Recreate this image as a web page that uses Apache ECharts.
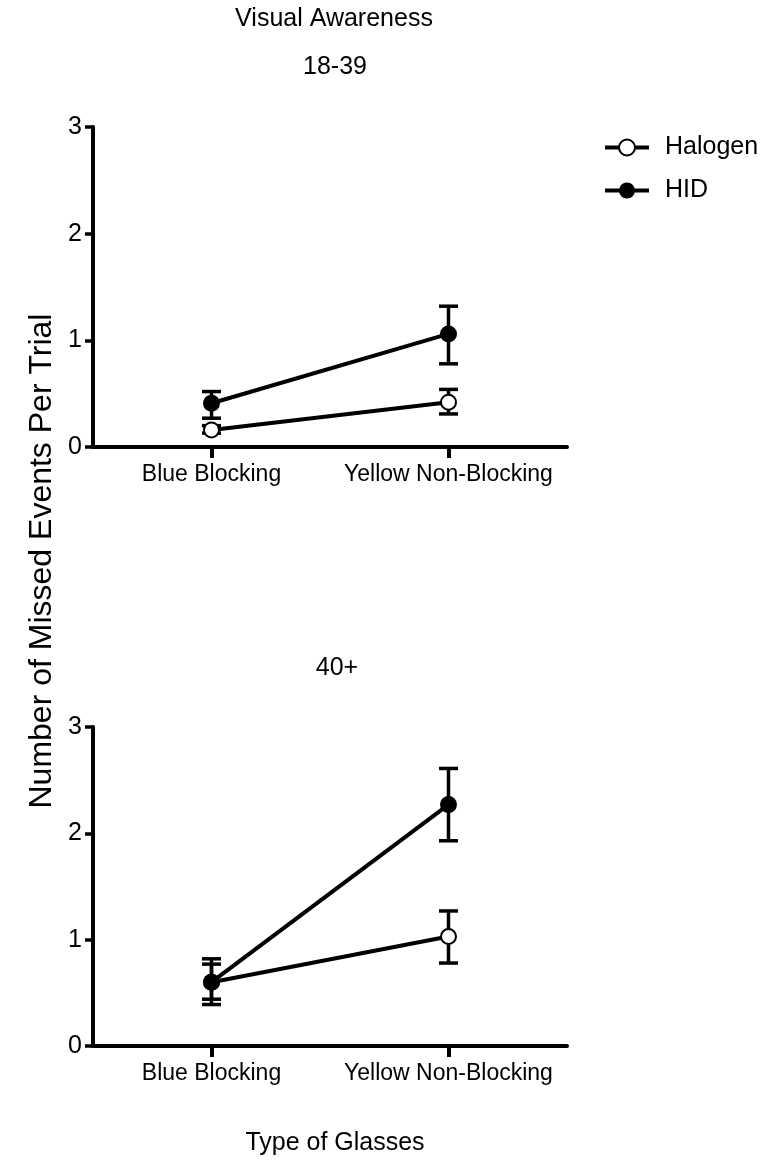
<!DOCTYPE html>
<html>
<head>
<meta charset="utf-8">
<script src="https://cdn.jsdelivr.net/npm/echarts@6/dist/echarts.min.js"></script>
<style>
  html, body { margin: 0; padding: 0; background: #fff; }
  #chart { width: 765px; height: 1161px; }
</style>
</head>
<body>
<div id="chart"></div>
<script>
// glasses type on x
const categories = ['Blue Blocking', 'Yellow Non-Blocking']
const seriesNames = ['Halogen', 'HID']

// 18-39 group
const youngHalogen = [0.16, 0.42]
const youngHalogenErr = [[0.13, 0.20], [0.31, 0.54]]
const youngHid = [0.41, 1.06]
const youngHidErr = [[0.27, 0.52], [0.78, 1.32]]

// 40+ group
const oldHalogen = [0.60, 1.03]
const oldHalogenErr = [[0.44, 0.77], [0.78, 1.27]]
const oldHid = [0.60, 2.27]
const oldHidErr = [[0.39, 0.82], [1.93, 2.61]]

const FONT = "'Liberation Sans', Arial, sans-serif"
const INK = '#000'

const chart = echarts.init(document.getElementById('chart'))

function errData(err) {
  return err.map((e, i) => [i, e[0], e[1]])
}

function errorSeries(err, gridIdx) {
  return {
    type: 'custom',
    xAxisIndex: gridIdx,
    yAxisIndex: gridIdx,
    z: 1,
    silent: true,
    encode: { x: 0, y: [1, 2] },
    data: errData(err),
    renderItem: (params, api) => {
      const lo = api.coord([api.value(0), api.value(1)])
      const hi = api.coord([api.value(0), api.value(2)])
      const half = 9.5
      const style = { stroke: INK, lineWidth: 3.5 }
      return {
        type: 'group',
        children: [
          { type: 'line', shape: { x1: hi[0], y1: hi[1], x2: lo[0], y2: lo[1] }, style },
          { type: 'line', shape: { x1: hi[0] - half, y1: hi[1], x2: hi[0] + half, y2: hi[1] }, style },
          { type: 'line', shape: { x1: lo[0] - half, y1: lo[1], x2: lo[0] + half, y2: lo[1] }, style },
        ],
      }
    },
  }
}

function lineSeries(name, values, gridIdx, open) {
  return {
    name,
    type: 'line',
    xAxisIndex: gridIdx,
    yAxisIndex: gridIdx,
    z: 3,
    data: values,
    symbol: open ? 'emptyCircle' : 'circle',
    symbolSize: open ? 15 : 17,
    showAllSymbol: true,
    lineStyle: { color: INK, width: 4 },
    itemStyle: { color: INK, borderColor: INK, borderWidth: open ? 4 : 0 },
    emphasis: { disabled: true },
  }
}

const xAxisBase = (gridIndex) => ({
  type: 'category',
  gridIndex,
  data: categories,
  boundaryGap: true,
  axisLine: { lineStyle: { color: INK, width: 4 } },
  axisTick: { show: true, interval: 0, alignWithLabel: true, length: 11, lineStyle: { color: INK, width: 4 } },
  axisLabel: { interval: 0, color: INK, fontFamily: FONT, fontSize: 23, margin: 16 },
  splitLine: { show: false },
})

const yAxisBase = (gridIndex) => ({
  type: 'value',
  gridIndex,
  min: 0,
  max: 3,
  interval: 1,
  axisLine: { show: true, lineStyle: { color: INK, width: 4 } },
  axisTick: { show: true, length: 8, lineStyle: { color: INK, width: 3.5 } },
  axisLabel: { color: INK, fontFamily: FONT, fontSize: 25, margin: 11 },
  splitLine: { show: false },
})

const textEl = (text, x, y, size, rotation) => ({
  type: 'text',
  x, y,
  rotation: rotation || 0,
  style: {
    text,
    fill: INK,
    font: `${size}px ${FONT}`,
    textAlign: 'center',
    textVerticalAlign: 'middle',
    align: 'center',
    verticalAlign: 'middle',
  },
})

const option = {
  backgroundColor: '#fff',
  animation: false,
  grid: [
    { left: 93, top: 127, width: 474, height: 320 },
    { left: 93, top: 727, width: 474, height: 319 },
  ],
  xAxis: [xAxisBase(0), xAxisBase(1)],
  yAxis: [yAxisBase(0), yAxisBase(1)],
  legend: {
    data: seriesNames,
    orient: 'vertical',
    left: 603,
    top: 135,
    padding: 0,
    itemWidth: 44,
    itemHeight: 20,
    itemGap: 18,
    lineStyle: { width: 4 },
    textStyle: { color: INK, fontFamily: FONT, fontSize: 25, padding: [0, 0, 0, 11] },
    selectedMode: false,
  },
  graphic: [
    textEl('Visual Awareness', 334, 19, 25),
    textEl('18-39', 335, 67, 25),
    textEl('40+', 337, 668, 25),
    textEl('Type of Glasses', 335, 1143, 25),
    textEl('Number of Missed Events Per Trial', 42, 561, 32, Math.PI / 2),
  ],
  series: [
    errorSeries(youngHalogenErr, 0),
    errorSeries(youngHidErr, 0),
    errorSeries(oldHalogenErr, 1),
    errorSeries(oldHidErr, 1),
    lineSeries('Halogen', youngHalogen, 0, true),
    lineSeries('HID', youngHid, 0, false),
    lineSeries('Halogen', oldHalogen, 1, true),
    lineSeries('HID', oldHid, 1, false),
  ],
}

chart.setOption(option)
</script>
</body>
</html>
